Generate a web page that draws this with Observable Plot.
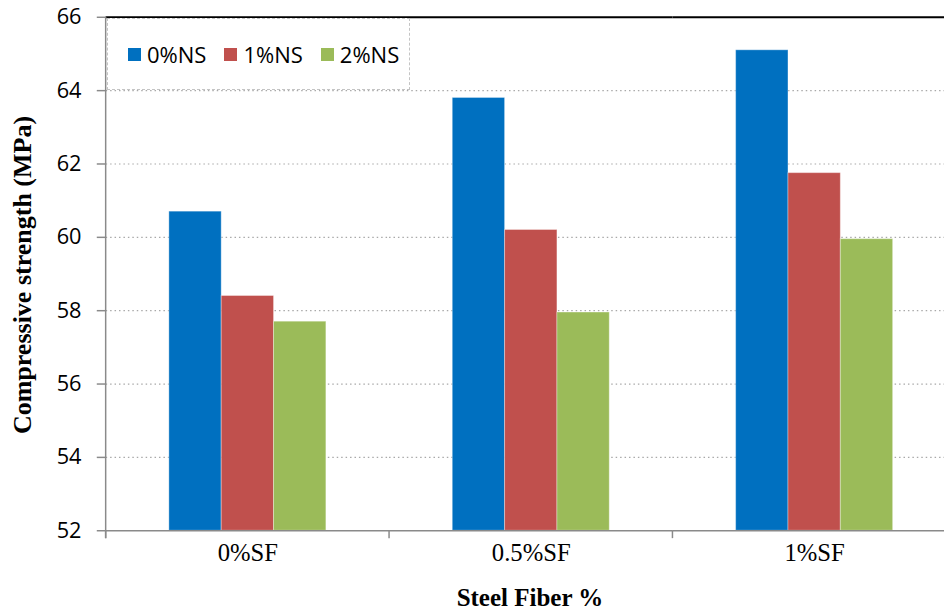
<!DOCTYPE html>
<html>
<head>
<meta charset="utf-8">
<script src="https://cdn.jsdelivr.net/npm/d3@7"></script>
<script src="https://cdn.jsdelivr.net/npm/@observablehq/plot@0.6"></script>
<style>
  html, body { margin: 0; padding: 0; background: #fff; overflow: hidden; }
  #wrap { position: relative; width: 944px; height: 610px; overflow: hidden; background: #fff; }
  #chart { position: absolute; left: 0; top: 0; }
  .ytitle { position: absolute; left: 23px; top: 275px; transform: translate(-50%, -50%) rotate(-90deg);
            white-space: nowrap; font: bold 26px "Liberation Serif", "DejaVu Serif", serif; color: #000; }
  .xtitle { position: absolute; left: 530px; top: 586px; height: 24px; line-height: 24px; transform: translateX(-50%);
            white-space: nowrap; font-weight: bold; font-size: 25px; font-family: "Liberation Serif", "DejaVu Serif", serif; color: #000; }
  .legend { position: absolute; left: 107px; top: 18px; width: 303px; height: 72px; box-sizing: border-box;
            border: 1px dashed #c4c4c4; background: #fff; display: flex; align-items: center;
            padding-left: 20px; gap: 18px; font: 22px "Open Sans", sans-serif; color: #000; }
  .legend .item { display: flex; align-items: center; gap: 6px; }
  .legend .sw { width: 13px; height: 13px; display: inline-block; }
</style>
</head>
<body>
<div id="wrap">
  <div id="chart"></div>
  <div class="ytitle">Compressive strength (MPa)</div>
  <div class="xtitle">Steel Fiber %</div>
  <div class="legend" id="legend"></div>
</div>
<script>
const categories = ["0%SF", "0.5%SF", "1%SF"];
const series = ["0%NS", "1%NS", "2%NS"];
const values0NS = [60.7, 63.8, 65.1];
const values1NS = [58.4, 60.2, 61.75];
const values2NS = [57.7, 57.95, 59.95];
const colors = ["#0070C0", "#C0504D", "#9BBB59"];
const yTicks = [52, 54, 56, 58, 60, 62, 64, 66];

const seriesValues = [values0NS, values1NS, values2NS];
const data = categories.flatMap((c, i) =>
  series.map((s, j) => ({category: c, series: s, value: seriesValues[j][i]})));

const yMin = yTicks[0], yMax = yTicks[yTicks.length - 1];

const plot = Plot.plot({
  width: 956,
  height: 610,
  marginLeft: 107,
  marginRight: -12,
  marginTop: 17,
  marginBottom: 73,
  style: {background: "white", fontFamily: "Open Sans, sans-serif", fontSize: "22px", color: "#000", overflow: "visible"},
  facet: {data, x: "category", label: null},
  fx: {domain: categories, padding: 0, label: null, tickSize: 0, tickPadding: 13},
  x: {domain: series, paddingInner: 0, paddingOuter: 1.17, axis: null},
  y: {domain: [yMin, yMax], ticks: yTicks, tickSize: 9, tickPadding: 16, label: null, tickFormat: d => String(d)},
  color: {domain: series, range: colors},
  marks: [
    Plot.ruleY(yTicks.slice(1, -1), {stroke: "#a8a8a8", strokeWidth: 1.2, strokeDasharray: "1.5,3"}),
    Plot.barY(data, {x: "series", y1: yMin, y2: "value", fill: "series", stroke: "#ffffff", strokeOpacity: 0.35, strokeWidth: 1}),
    Plot.ruleY([yMin], {stroke: "#8a8a8a", strokeWidth: 1.5}),
    Plot.ruleY([yMax], {stroke: "#000", strokeWidth: 2})
  ]
});
document.getElementById("chart").appendChild(plot);

// style tick labels: categories serif, numbers sans
const svg = d3.select(plot.tagName.toLowerCase() === "svg" ? plot : plot.querySelector("svg"));
svg.selectAll("text").each(function() {
  const t = this.textContent.trim();
  if (categories.includes(t)) {
    d3.select(this).attr("font-family", "Liberation Serif, DejaVu Serif, serif").attr("font-size", 25).attr("fill", "#000");
  } else {
    d3.select(this).attr("font-family", "Open Sans, sans-serif").attr("font-size", 22).attr("fill", "#000");
  }
});
svg.selectAll("g[aria-label='y-axis'] line, g[aria-label='y-axis tick'] path, g[aria-label='y-axis tick'] line").attr("stroke", "#8a8a8a").attr("stroke-width", 1.5);

// axis line and group boundary ticks through the plot's scales
const ys = plot.scale("y");
const yScale = d3.scaleLinear().domain(ys.domain).range(ys.range);
const fxs = plot.scale("fx");
const fxRange = fxs && fxs.range ? fxs.range : [107, 956];
const fxScale = d3.scaleBand().domain(categories).range(fxRange).padding(0);
const g = svg.append("g").attr("stroke", "#8a8a8a").attr("stroke-width", 1.5);
g.append("line").attr("x1", fxRange[0]).attr("x2", fxRange[0]).attr("y1", yScale(yMax)).attr("y2", yScale(yMin) + 8);
categories.forEach(c => {
  const x = fxScale(c);
  g.append("line").attr("x1", x).attr("x2", x).attr("y1", yScale(yMin)).attr("y2", yScale(yMin) + 8);
});

// legend from series and colors
const legend = document.getElementById("legend");
series.forEach((s, i) => {
  const item = document.createElement("div");
  item.className = "item";
  const sw = document.createElement("span");
  sw.className = "sw";
  sw.style.background = colors[i];
  const lab = document.createElement("span");
  lab.textContent = s;
  item.appendChild(sw);
  item.appendChild(lab);
  legend.appendChild(item);
});
</script>
</body>
</html>
